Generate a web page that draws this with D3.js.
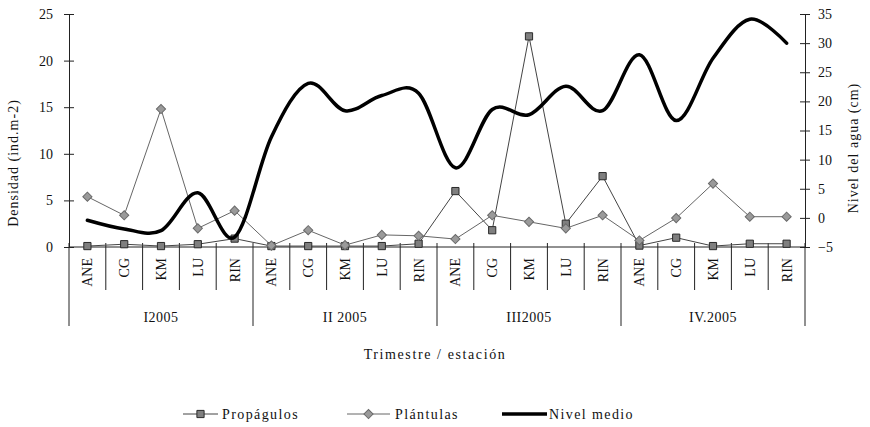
<!DOCTYPE html>
<html>
<head>
<meta charset="utf-8">
<script src="https://cdn.jsdelivr.net/npm/d3@7"></script>
<style>
  html, body { margin: 0; padding: 0; background: #fff; }
</style>
</head>
<body>
<svg id="chart" width="870" height="427"></svg>
<script>
// Stations sampled each quarter, and the quarter labels
const stations = ["ANE", "CG", "KM", "LU", "RIN"];
const quarters = ["I2005", "II 2005", "III2005", "IV.2005"];

// Density of propagules (ind.m-2), one value per quarter/station
const propagulos = [
  0.1, 0.3, 0.1, 0.3, 0.9,
  0.1, 0.1, 0.1, 0.1, 0.35,
  6.0, 1.8, 22.6, 2.5, 7.6,
  0.15, 1.0, 0.1, 0.35, 0.35
];

// Density of seedlings (ind.m-2)
const plantulas = [
  5.4, 3.4, 14.8, 2.0, 3.9,
  0.15, 1.8, 0.2, 1.3, 1.2,
  0.85, 3.4, 2.7, 2.0, 3.4,
  0.7, 3.1, 6.8, 3.25, 3.25
];

// Mean water level (cm), right axis
const nivelMedio = [
  -0.4, -1.9, -2.2, 4.3, -3.3,
  13.9, 23.1, 18.4, 21.0, 21.4,
  8.6, 18.6, 17.7, 22.6, 18.4,
  28.0, 16.7, 27.4, 34.1, 30.0
];

const leftTicks = [0, 5, 10, 15, 20, 25];
const rightTicks = [-5, 0, 5, 10, 15, 20, 25, 30, 35];

const FONT = "'Liberation Serif', 'DejaVu Serif', serif";

const rows = [];
quarters.forEach((q, qi) => stations.forEach((s, si) => {
  const i = qi * stations.length + si;
  rows.push({ i, q, s, prop: propagulos[i], plan: plantulas[i], nivel: nivelMedio[i] });
}));

const svg = d3.select("#chart");
const plot = { left: 69, right: 805, top: 14, bottom: 247 };

const x = d3.scaleBand().domain(rows.map(d => d.i)).range([plot.left, plot.right]).padding(0);
const xc = i => x(i) + x.bandwidth() / 2;
const yL = d3.scaleLinear().domain([0, 25]).range([plot.bottom, plot.top]);
const yR = d3.scaleLinear().domain([-5, 35]).range([plot.bottom, plot.top]);

function styleText(sel, size, spacing) {
  return sel.attr("font-family", null)
    .style("font-family", FONT)
    .style("font-size", size + "px")
    .style("letter-spacing", (spacing || 0) + "px")
    .attr("fill", "#111");
}

// Left axis
const gL = svg.append("g").attr("transform", `translate(${plot.left},0)`)
  .call(d3.axisLeft(yL).tickValues(leftTicks).tickSize(5).tickPadding(11));
gL.attr("font-family", null);
gL.select(".domain").attr("stroke", "#222");
gL.selectAll(".tick line").attr("x1", -5).attr("x2", 5).attr("stroke", "#222");
styleText(gL.selectAll(".tick text"), 14);

// Right axis
const gR = svg.append("g").attr("transform", `translate(${plot.right},0)`)
  .call(d3.axisRight(yR).tickValues(rightTicks).tickSize(5).tickPadding(8));
gR.attr("font-family", null);
gR.select(".domain").attr("stroke", "#222");
gR.selectAll(".tick line").attr("x1", -5).attr("x2", 5).attr("stroke", "#222");
styleText(gR.selectAll(".tick text"), 14);

// Category axis: baseline, separators and two label levels
const gX = svg.append("g");
gX.append("line").attr("x1", plot.left).attr("x2", plot.right)
  .attr("y1", plot.bottom).attr("y2", plot.bottom).attr("stroke", "#222");
const bounds = d3.range(rows.length + 1);
gX.selectAll("line.sep").data(bounds).join("line").attr("class", "sep")
  .attr("x1", i => plot.left + i * x.bandwidth())
  .attr("x2", i => plot.left + i * x.bandwidth())
  .attr("y1", plot.bottom - 4)
  .attr("y2", i => i % stations.length === 0 ? 326 : 290)
  .attr("stroke", "#222");
styleText(gX.selectAll("text.st").data(rows).join("text").attr("class", "st")
  .attr("transform", d => `translate(${xc(d.i) + 5},258) rotate(-90)`)
  .attr("text-anchor", "end")
  .text(d => d.s), 14);
styleText(gX.selectAll("text.qt").data(quarters).join("text").attr("class", "qt")
  .attr("x", (q, qi) => (xc(qi * 5) + xc(qi * 5 + 4)) / 2)
  .attr("y", 322)
  .attr("text-anchor", "middle")
  .text(q => q), 14, 0.5);

// Axis titles
styleText(svg.append("text").attr("transform", "translate(18,163) rotate(-90)")
  .attr("text-anchor", "middle").text("Densidad (ind.m-2)"), 14, 1);
styleText(svg.append("text").attr("transform", "translate(858,148) rotate(-90)")
  .attr("text-anchor", "middle").text("Nivel del agua (cm)"), 14, 1);
styleText(svg.append("text").attr("x", 435).attr("y", 359)
  .attr("text-anchor", "middle").text("Trimestre / estación"), 14, 1.6);

// Series lines and markers
const lineProp = d3.line().x(d => xc(d.i)).y(d => yL(d.prop));
const linePlan = d3.line().x(d => xc(d.i)).y(d => yL(d.plan));
const lineNivel = d3.line().x(d => xc(d.i)).y(d => yR(d.nivel)).curve(d3.curveCardinal.tension(0));

const squareSym = d3.symbol().type(d3.symbolSquare).size(52);
const diamondSym = d3.symbol().type(d3.symbolSquare).size(42);

svg.append("path").datum(rows).attr("d", lineProp)
  .attr("fill", "none").attr("stroke", "#444").attr("stroke-width", 1);
svg.selectAll("path.sq").data(rows).join("path").attr("class", "sq")
  .attr("transform", d => `translate(${xc(d.i)},${yL(d.prop)})`)
  .attr("d", squareSym).attr("fill", "#7f7f7f").attr("stroke", "#2a2a2a").attr("stroke-width", 1);

svg.append("path").datum(rows).attr("d", linePlan)
  .attr("fill", "none").attr("stroke", "#666").attr("stroke-width", 1);
svg.selectAll("path.dm").data(rows).join("path").attr("class", "dm")
  .attr("transform", d => `translate(${xc(d.i)},${yL(d.plan)}) rotate(45)`)
  .attr("d", diamondSym).attr("fill", "#9a9a9a").attr("stroke", "#6a6a6a").attr("stroke-width", 1);

svg.append("path").datum(rows).attr("d", lineNivel)
  .attr("fill", "none").attr("stroke", "#000").attr("stroke-width", 3.5)
  .attr("stroke-linejoin", "round").attr("stroke-linecap", "round");

// Legend
const lg = svg.append("g").attr("transform", "translate(0,414)");
const legendItems = [
  { name: "Propágulos", x0: 183, x1: 218, tx: 222, kind: "sq" },
  { name: "Plántulas", x0: 347, x1: 390, tx: 395, kind: "dm" },
  { name: "Nivel medio", x0: 502, x1: 547, tx: 549, kind: "ln" }
];
legendItems.forEach(it => {
  lg.append("line").attr("x1", it.x0).attr("x2", it.x1).attr("y1", 0).attr("y2", 0)
    .attr("stroke", it.kind === "ln" ? "#000" : (it.kind === "sq" ? "#444" : "#666"))
    .attr("stroke-width", it.kind === "ln" ? 3.5 : 1);
  if (it.kind === "sq") {
    lg.append("path").attr("transform", `translate(${(it.x0 + it.x1) / 2},0)`)
      .attr("d", squareSym).attr("fill", "#7f7f7f").attr("stroke", "#2a2a2a");
  } else if (it.kind === "dm") {
    lg.append("path").attr("transform", `translate(${(it.x0 + it.x1) / 2},0) rotate(45)`)
      .attr("d", diamondSym).attr("fill", "#9a9a9a").attr("stroke", "#6a6a6a");
  }
  styleText(lg.append("text").attr("x", it.tx).attr("y", 4.5).text(it.name), 14, 1.4);
});
</script>
</body>
</html>
